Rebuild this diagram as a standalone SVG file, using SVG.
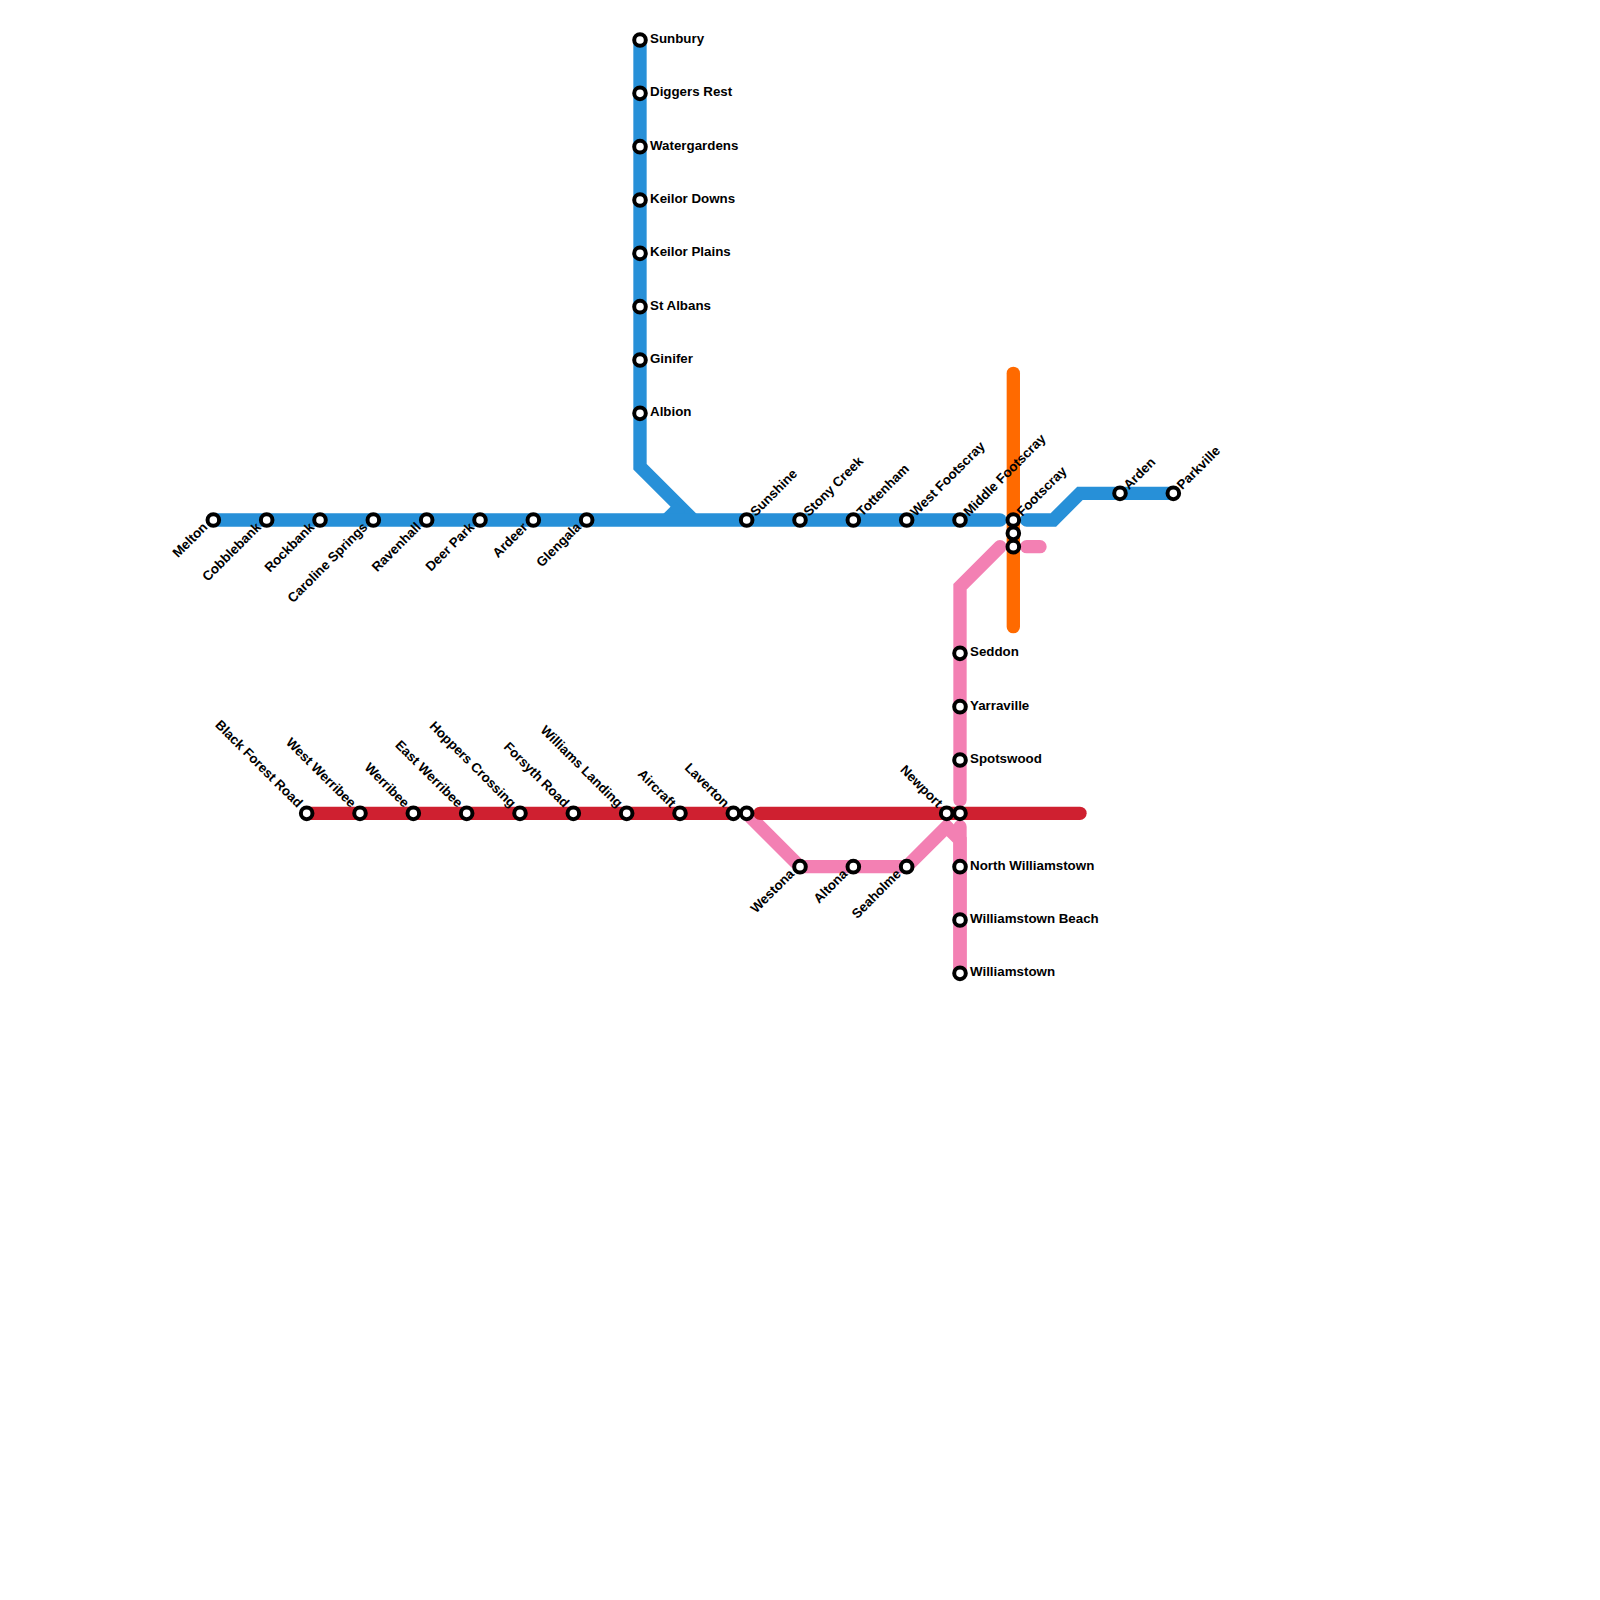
<svg xmlns="http://www.w3.org/2000/svg" width="1600" height="1600" viewBox="0 0 1600 1600">
<style>
.l{fill:none;stroke-width:13.33;stroke-linejoin:miter;stroke-linecap:round}
.b{stroke:#2790d8}.r{stroke:#cf2030}.p{stroke:#f380b3}.o{stroke:#ff6a00}
.s{fill:#fff;stroke:#000;stroke-width:4}
text{font-family:"Liberation Sans",Arial,sans-serif;font-size:13.33px;font-weight:700;fill:#000}
.e{text-anchor:end}
</style>
<rect width="1600" height="1600" fill="#fff"/>
<g id="connectors">
<path class="l p" d="M960 800V653.33V586.67L1000 546.67"/>
<path class="l p" d="M1026.67 546.67H1040"/>
<path class="l p" style="stroke-linecap:butt" d="M746.67 813.33L800 866.67H906.67L946.67 826.67L960 840V973.33"/>
<path class="l p" d="M960 826.67V973.33"/>
<path class="l o" d="M1013.33 373.33V626.67"/>
<path class="l b" style="stroke-linecap:butt" d="M640 40V466.67L693.33 520"/>
<path class="l b" style="stroke-linecap:butt" d="M666.67 520L680 506.67"/>
<path class="l b" d="M213.33 520H1000"/>
<path class="l b" d="M1026.67 520H1053.33L1080 493.33H1173.33"/>
<path class="l r" d="M306.67 813.33H733.33"/>
<path class="l r" d="M760 813.33H1080"/>
</g>
<g id="n-melton"><circle class="s" cx="213.33" cy="520" r="5.8"/><text class="e" transform="translate(208.33 528) rotate(-45)">Melton</text></g>
<g id="n-cobblebank"><circle class="s" cx="266.67" cy="520" r="5.8"/><text class="e" transform="translate(261.67 528) rotate(-45)">Cobblebank</text></g>
<g id="n-rockbank"><circle class="s" cx="320" cy="520" r="5.8"/><text class="e" transform="translate(315 528) rotate(-45)">Rockbank</text></g>
<g id="n-caroline"><circle class="s" cx="373.33" cy="520" r="5.8"/><text class="e" transform="translate(368.33 528) rotate(-45)">Caroline Springs</text></g>
<g id="n-ravenhall"><circle class="s" cx="426.67" cy="520" r="5.8"/><text class="e" transform="translate(421.67 528) rotate(-45)">Ravenhall</text></g>
<g id="n-deerpark"><circle class="s" cx="480" cy="520" r="5.8"/><text class="e" transform="translate(475 528) rotate(-45)">Deer Park</text></g>
<g id="n-ardeer"><circle class="s" cx="533.33" cy="520" r="5.8"/><text class="e" transform="translate(528.33 528) rotate(-45)">Ardeer</text></g>
<g id="n-glengala"><circle class="s" cx="586.67" cy="520" r="5.8"/><text class="e" transform="translate(581.67 528) rotate(-45)">Glengala</text></g>
<g id="n-sunbury"><circle class="s" cx="640" cy="40" r="5.8"/><text x="650" y="43">Sunbury</text></g>
<g id="n-diggers"><circle class="s" cx="640" cy="93.33" r="5.8"/><text x="650" y="96.33">Diggers Rest</text></g>
<g id="n-watergardens"><circle class="s" cx="640" cy="146.67" r="5.8"/><text x="650" y="149.67">Watergardens</text></g>
<g id="n-keilordowns"><circle class="s" cx="640" cy="200" r="5.8"/><text x="650" y="203">Keilor Downs</text></g>
<g id="n-keilorplains"><circle class="s" cx="640" cy="253.33" r="5.8"/><text x="650" y="256.33">Keilor Plains</text></g>
<g id="n-stalbans"><circle class="s" cx="640" cy="306.67" r="5.8"/><text x="650" y="309.67">St Albans</text></g>
<g id="n-ginifer"><circle class="s" cx="640" cy="360" r="5.8"/><text x="650" y="363">Ginifer</text></g>
<g id="n-albion"><circle class="s" cx="640" cy="413.33" r="5.8"/><text x="650" y="416.33">Albion</text></g>
<g id="n-sunshine"><circle class="s" cx="746.67" cy="520" r="5.8"/><text transform="translate(755.67 517) rotate(-45)">Sunshine</text></g>
<g id="n-stonycreek"><circle class="s" cx="800" cy="520" r="5.8"/><text transform="translate(809 517) rotate(-45)">Stony Creek</text></g>
<g id="n-tottenham"><circle class="s" cx="853.33" cy="520" r="5.8"/><text transform="translate(862.33 517) rotate(-45)">Tottenham</text></g>
<g id="n-westfootscray"><circle class="s" cx="906.67" cy="520" r="5.8"/><text transform="translate(915.67 517) rotate(-45)">West Footscray</text></g>
<g id="n-middlefootscray"><circle class="s" cx="960" cy="520" r="5.8"/><text transform="translate(969 517) rotate(-45)">Middle Footscray</text></g>
<g id="n-footscray"><circle class="s" cx="1013.33" cy="520" r="5.8"/><circle class="s" cx="1013.33" cy="533.33" r="5.8"/><circle class="s" cx="1013.33" cy="546.67" r="5.8"/><text transform="translate(1022.33 517) rotate(-45)">Footscray</text></g>
<g id="n-arden"><circle class="s" cx="1120" cy="493.33" r="5.8"/><text transform="translate(1129 490.33) rotate(-45)">Arden</text></g>
<g id="n-parkville"><circle class="s" cx="1173.33" cy="493.33" r="5.8"/><text transform="translate(1182.33 490.33) rotate(-45)">Parkville</text></g>
<g id="n-seddon"><circle class="s" cx="960" cy="653.33" r="5.8"/><text x="970" y="656.33">Seddon</text></g>
<g id="n-yarraville"><circle class="s" cx="960" cy="706.67" r="5.8"/><text x="970" y="709.67">Yarraville</text></g>
<g id="n-spotswood"><circle class="s" cx="960" cy="760" r="5.8"/><text x="970" y="763">Spotswood</text></g>
<g id="n-blackforest"><circle class="s" cx="306.67" cy="813.33" r="5.8"/><text class="e" transform="translate(297.17 808.33) rotate(45)">Black Forest Road</text></g>
<g id="n-westwerribee"><circle class="s" cx="360" cy="813.33" r="5.8"/><text class="e" transform="translate(350.5 808.33) rotate(45)">West Werribee</text></g>
<g id="n-werribee"><circle class="s" cx="413.33" cy="813.33" r="5.8"/><text class="e" transform="translate(403.83 808.33) rotate(45)">Werribee</text></g>
<g id="n-eastwerribee"><circle class="s" cx="466.67" cy="813.33" r="5.8"/><text class="e" transform="translate(457.17 808.33) rotate(45)">East Werribee</text></g>
<g id="n-hoppers"><circle class="s" cx="520" cy="813.33" r="5.8"/><text class="e" transform="translate(510.5 808.33) rotate(45)">Hoppers Crossing</text></g>
<g id="n-forsyth"><circle class="s" cx="573.33" cy="813.33" r="5.8"/><text class="e" transform="translate(563.83 808.33) rotate(45)">Forsyth Road</text></g>
<g id="n-williamslanding"><circle class="s" cx="626.67" cy="813.33" r="5.8"/><text class="e" transform="translate(617.17 808.33) rotate(45)">Williams Landing</text></g>
<g id="n-aircraft"><circle class="s" cx="680" cy="813.33" r="5.8"/><text class="e" transform="translate(670.5 808.33) rotate(45)">Aircraft</text></g>
<g id="n-laverton"><circle class="s" cx="733.33" cy="813.33" r="5.8"/><circle class="s" cx="746.67" cy="813.33" r="5.8"/><text class="e" transform="translate(723.83 808.33) rotate(45)">Laverton</text></g>
<g id="n-newport"><circle class="s" cx="946.67" cy="813.33" r="5.8"/><circle class="s" cx="960" cy="813.33" r="5.8"/><text class="e" transform="translate(937.17 808.33) rotate(45)">Newport</text></g>
<g id="n-westona"><circle class="s" cx="800" cy="866.67" r="5.8"/><text class="e" transform="translate(795 874.67) rotate(-45)">Westona</text></g>
<g id="n-altona"><circle class="s" cx="853.33" cy="866.67" r="5.8"/><text class="e" transform="translate(848.33 874.67) rotate(-45)">Altona</text></g>
<g id="n-seaholme"><circle class="s" cx="906.67" cy="866.67" r="5.8"/><text class="e" transform="translate(901.67 874.67) rotate(-45)">Seaholme</text></g>
<g id="n-northwilliamstown"><circle class="s" cx="960" cy="866.67" r="5.8"/><text x="970" y="869.67">North Williamstown</text></g>
<g id="n-williamstownbeach"><circle class="s" cx="960" cy="920" r="5.8"/><text x="970" y="923">Williamstown Beach</text></g>
<g id="n-williamstown"><circle class="s" cx="960" cy="973.33" r="5.8"/><text x="970" y="976.33">Williamstown</text></g>
</svg>
